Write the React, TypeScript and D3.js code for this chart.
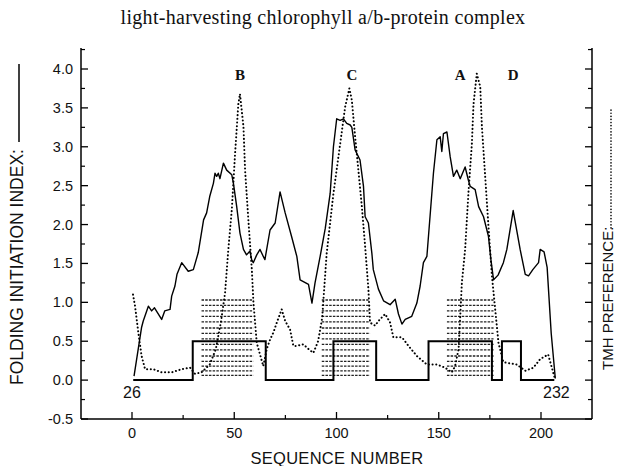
import React from 'react';
import * as d3 from 'd3';

const title = 'light-harvesting chlorophyll a/b-protein complex';
const xLabel = 'SEQUENCE NUMBER';
const yLabel = 'FOLDING INITIATION INDEX:';
const y2Label = 'TMH PREFERENCE:';

// Folding initiation index (solid line)
const foldSeq = [1, 4.7, 5.5, 8, 9.6, 11, 14.5, 16, 18.6, 19.4, 21, 22, 24.3, 27.5, 30, 32.4, 35, 36.5, 38, 39.8, 40.6, 41.4, 42.2, 43, 44.7, 46.3, 48.8, 49.6, 51.2, 52.8, 54.5, 56, 57.7, 58.5, 59.3, 61, 62.6, 64.2, 65, 67.5, 70, 72.4, 74.9, 78, 80.6, 82.2, 86.3, 88, 89.5, 92, 94.5, 96.9, 98.5, 100.1, 101.8, 103.4, 105, 106.7, 107.5, 109.1, 111.5, 113.2, 114, 115.6, 117.3, 118, 120.5, 123, 126.2, 128.7, 130.3, 132, 133.6, 136.8, 139.3, 140.9, 142.5, 144.2, 147.4, 149.1, 150.7, 151.5, 152.3, 154, 155.6, 157.2, 158.8, 160.5, 162.9, 164.5, 165.4, 167.8, 169.5, 171.9, 174.3, 175.5, 176.8, 179, 181.6, 183.3, 186.4, 189.8, 192.3, 193.9, 196, 198.8, 199.6, 201.5, 203, 205, 207];
const foldVal = [0.05, 0.68, 0.76, 0.95, 0.89, 0.93, 0.78, 0.89, 0.91, 1.08, 1.21, 1.36, 1.51, 1.4, 1.42, 1.64, 2.06, 2.15, 2.36, 2.53, 2.66, 2.62, 2.66, 2.59, 2.79, 2.7, 2.64, 2.53, 2.23, 1.89, 1.68, 1.61, 1.66, 1.55, 1.51, 1.61, 1.68, 1.59, 1.55, 1.93, 2.02, 2.42, 2.15, 1.85, 1.59, 1.29, 1.23, 0.99, 1.25, 1.59, 1.95, 2.4, 3.0, 3.36, 3.34, 3.36, 3.3, 3.28, 3.25, 2.96, 2.83, 2.49, 2.1, 2.02, 1.63, 1.42, 1.17, 1.02, 0.97, 1.04, 0.85, 0.72, 0.78, 0.82, 0.99, 1.21, 1.51, 1.59, 2.66, 3.09, 3.13, 2.94, 3.17, 3.19, 2.87, 2.62, 2.7, 2.59, 2.74, 2.57, 2.49, 2.45, 2.23, 2.1, 1.85, 1.55, 1.29, 1.35, 1.51, 1.68, 2.18, 1.68, 1.36, 1.34, 1.42, 1.51, 1.68, 1.65, 1.45, 0.6, 0.02];

// TMH preference (dotted line)
const tmhSeq = [0.5, 1.5, 3.1, 4.7, 6.4, 10.4, 14.5, 19.4, 24.3, 28.4, 30.8, 34, 38, 41, 43.5, 45.5, 47.1, 48.8, 50.4, 52, 52.8, 54.5, 55.3, 56.9, 58.6, 59.4, 61, 64.2, 65.9, 67.5, 69.1, 70.8, 73.2, 74.9, 77.3, 78.9, 80.6, 83.8, 86.3, 88.7, 91, 93, 95.2, 98.5, 101.8, 104.2, 106.3, 107.5, 109.1, 110.7, 112.4, 114, 115.6, 116.4, 118.9, 120.5, 123.8, 126.2, 127.8, 132, 135.2, 139.3, 144.2, 149.1, 153.1, 156.4, 158, 159.7, 160.5, 161.3, 162.9, 164.5, 166.2, 167, 168.6, 170.3, 171.1, 172.7, 174.3, 176, 177.6, 179.2, 181.6, 188.2, 192.3, 196.3, 199.6, 203.5, 207];
const tmhVal = [1.1, 0.95, 0.61, 0.31, 0.14, 0.14, 0.1, 0.1, 0.14, 0.16, 0.08, 0.1, 0.2, 0.4, 0.75, 1.12, 1.68, 2.19, 2.91, 3.55, 3.68, 3.26, 2.7, 2.06, 1.42, 0.99, 0.48, 0.18, 0.4, 0.52, 0.61, 0.74, 0.91, 0.76, 0.65, 0.44, 0.44, 0.46, 0.4, 0.35, 0.5, 0.8, 1.63, 2.4, 3.04, 3.51, 3.75, 3.6, 3.13, 2.7, 2.23, 1.72, 1.17, 0.74, 0.7, 0.76, 0.85, 0.74, 0.55, 0.55, 0.44, 0.31, 0.2, 0.2, 0.16, 0.1, 0.18, 0.4, 0.82, 1.25, 1.68, 2.4, 3.04, 3.55, 3.94, 3.77, 3.26, 2.62, 1.98, 1.34, 0.91, 0.48, 0.23, 0.2, 0.12, 0.16, 0.27, 0.33, 0.0];

// Predicted helix boxes
const boxFrom = 0.6;
const boxTo = 206.5;
const boxStart = [29.7, 98.5, 145, 180.9];
const boxEnd = [65.4, 119.4, 176, 190.2];
const boxLevel = 0.5;

// Hatched regions
const hatchStart = [34, 92.8, 154];
const hatchEnd = [59.4, 116.4, 176.8];
const hatchLevels = [1.03, 0.96, 0.89, 0.82, 0.75, 0.67, 0.6, 0.53, 0.46, 0.39, 0.31, 0.24, 0.18, 0.12, 0.06];

// Helix letters
const helixNames = ['B', 'C', 'A', 'D'];
const helixSeq = [52.8, 107.6, 160.5, 186.4];

const xTicks = [0, 50, 100, 150, 200];
const xMinor = [25, 75, 125, 175];
const yTicks = [-0.5, 0, 0.5, 1, 1.5, 2, 2.5, 3, 3.5, 4];
const yMinor = [-0.25, 0.25, 0.75, 1.25, 1.75, 2.25, 2.75, 3.25, 3.75, 4.25];
const startLabel = '26';
const endLabel = '232';
const startSeq = 0;
const endSeq = 207.5;

const W = 623;
const H = 466;
const L = 81;
const R = 592;
const B = 419;
const T = 48;

export default function App() {
  const x = d3.scaleLinear().domain([0, 200]).range([132, 541]);
  const y = d3.scaleLinear().domain([-0.5, 4]).range([419, 69]);

  const line = d3
    .line<[number, number]>()
    .x((d) => x(d[0]))
    .y((d) => y(d[1]));

  const foldPts = foldSeq.map((s, i) => [s, foldVal[i]] as [number, number]);
  const tmhPts = tmhSeq.map((s, i) => [s, tmhVal[i]] as [number, number]);

  const boxPts: [number, number][] = [[boxFrom, 0]];
  boxStart.forEach((s, i) => {
    boxPts.push([s, 0], [s, boxLevel], [boxEnd[i], boxLevel], [boxEnd[i], 0]);
  });
  boxPts.push([boxTo, 0]);

  const sans = "'Liberation Sans', Arial, Helvetica, sans-serif";
  const serif = "'Liberation Serif', 'Times New Roman', serif";

  return (
    <svg
      width={W}
      height={H}
      style={{ position: 'absolute', left: 0, top: 0, background: '#fff' }}
    >
      <rect x={0} y={0} width={W} height={H} fill="#fff" />
      <text x={323} y={24} textAnchor="middle" fontFamily={serif} fontSize={20} letterSpacing={0.3} fill="#111">
        {title}
      </text>

      {/* hatching */}
      {hatchStart.map((s, i) =>
        hatchLevels.map((lv, j) => (
          <line
            key={`h${i}-${j}`}
            x1={x(s)}
            x2={x(hatchEnd[i])}
            y1={y(lv)}
            y2={y(lv)}
            stroke="#222"
            strokeWidth={1.3}
            strokeDasharray="2.5 1.2"
          />
        ))
      )}

      {/* boxes */}
      <path d={line(boxPts) || ''} fill="none" stroke="#000" strokeWidth={2} />

      {/* folding index */}
      <path d={line(foldPts) || ''} fill="none" stroke="#000" strokeWidth={1.4} strokeLinejoin="round" />

      {/* TMH preference */}
      <path
        d={line(tmhPts) || ''}
        fill="none"
        stroke="#000"
        strokeWidth={2}
        strokeDasharray="0.1 3.6"
        strokeLinecap="round"
      />

      {/* axes */}
      <line x1={L} x2={L} y1={T} y2={B} stroke="#000" strokeWidth={1.5} />
      <line x1={R} x2={R} y1={T} y2={B} stroke="#000" strokeWidth={1.5} />
      <line x1={L} x2={R} y1={B} y2={B} stroke="#000" strokeWidth={1.5} />

      {yTicks.map((t) => (
        <g key={`yt${t}`}>
          <line x1={L} x2={L + 7} y1={y(t)} y2={y(t)} stroke="#000" strokeWidth={1.3} />
          <line x1={R} x2={R - 7} y1={y(t)} y2={y(t)} stroke="#000" strokeWidth={1.3} />
          <text x={73} y={y(t) + 5} textAnchor="end" fontFamily={sans} fontSize={14.5} fill="#111">
            {t.toFixed(1)}
          </text>
        </g>
      ))}
      {yMinor.map((t) => (
        <g key={`ym${t}`}>
          <line x1={L} x2={L + 4} y1={y(t)} y2={y(t)} stroke="#000" strokeWidth={1.2} />
          <line x1={R} x2={R - 4} y1={y(t)} y2={y(t)} stroke="#000" strokeWidth={1.2} />
        </g>
      ))}
      {xTicks.map((t) => (
        <g key={`xt${t}`}>
          <line x1={x(t)} x2={x(t)} y1={B} y2={B - 7} stroke="#000" strokeWidth={1.3} />
          <text x={x(t)} y={438} textAnchor="middle" fontFamily={sans} fontSize={14.5} fill="#111">
            {t}
          </text>
        </g>
      ))}
      {xMinor.map((t) => (
        <line key={`xm${t}`} x1={x(t)} x2={x(t)} y1={B} y2={B - 4} stroke="#000" strokeWidth={1.2} />
      ))}

      <text x={337} y={463.5} textAnchor="middle" fontFamily={sans} fontSize={16.5} letterSpacing={0.3} fill="#111">
        {xLabel}
      </text>

      {/* y label with legend line */}
      <text
        transform={`translate(23, 385) rotate(-90)`}
        textAnchor="start"
        fontFamily={sans}
        fontSize={17.5}
        fill="#111"
      >
        {yLabel}
      </text>
      <line x1={19} x2={19} y1={142} y2={64} stroke="#000" strokeWidth={1.5} />

      {/* right label with legend dots */}
      <text
        transform={`translate(613, 370) rotate(-90)`}
        textAnchor="start"
        fontFamily={sans}
        fontSize={15}
        fill="#111"
      >
        {y2Label}
      </text>
      <line x1={611} x2={611} y1={228} y2={110} stroke="#000" strokeWidth={1.6} strokeDasharray="0.1 3" strokeLinecap="round" />

      {/* helix letters */}
      {helixNames.map((n, i) => (
        <text key={n} x={x(helixSeq[i])} y={80} textAnchor="middle" fontFamily={serif} fontWeight="bold" fontSize={15} fill="#111">
          {n}
        </text>
      ))}

      <text x={x(startSeq)} y={398} textAnchor="middle" fontFamily={sans} fontSize={16} fill="#111">
        {startLabel}
      </text>
      <text x={x(endSeq)} y={398} textAnchor="middle" fontFamily={sans} fontSize={16} fill="#111">
        {endLabel}
      </text>
    </svg>
  );
}
